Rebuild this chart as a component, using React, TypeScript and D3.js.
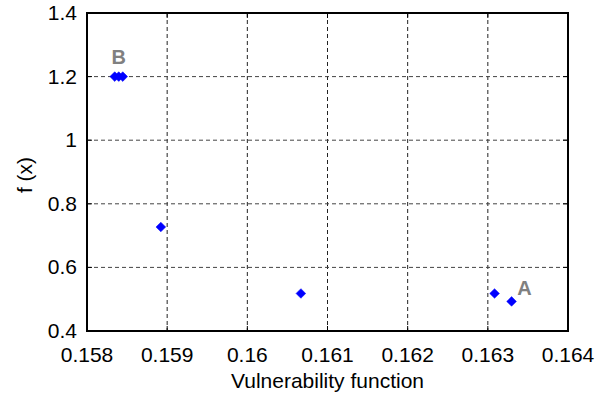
import * as d3 from 'd3';

const xVals = [0.158346, 0.158396, 0.158446, 0.158921, 0.160668, 0.163084, 0.163296];
const yVals = [1.2, 1.2, 1.2, 0.727, 0.518, 0.518, 0.493];
const xTicks = [0.158, 0.159, 0.16, 0.161, 0.162, 0.163, 0.164];
const yTicks = [0.4, 0.6, 0.8, 1, 1.2, 1.4];
const labels = [
  { text: 'B', x: 0.158396, y: 1.2, dx: 0, dy: -13 },
  { text: 'A', x: 0.163296, y: 0.493, dx: 13, dy: -6 },
];

const W = 595;
const H = 399;
const margin = { top: 13, right: 27, bottom: 68, left: 87 };

export default function App() {
  const x = d3.scaleLinear().domain([0.158, 0.164]).range([margin.left, W - margin.right]);
  const y = d3.scaleLinear().domain([0.4, 1.4]).range([H - margin.bottom, margin.top]);
  const diamond = d3.symbol().type(d3.symbolDiamond2).size(60)() ?? '';
  const font = 'Arial, "Liberation Sans", sans-serif';
  const x0 = x(0.158);
  const x1 = x(0.164);
  const y0 = y(0.4);
  const y1 = y(1.4);

  return (
    <svg width={W} height={H} style={{ position: 'absolute', left: 0, top: 0, background: '#fff' }}>
      <rect x={x0} y={y1} width={x1 - x0} height={y0 - y1} fill="#fff" />
      {/* grid */}
      {xTicks.slice(1, -1).map((t) => (
        <line key={'gx' + t} x1={x(t)} x2={x(t)} y1={y1} y2={y0} stroke="#222" strokeWidth={1} strokeDasharray="4,3" />
      ))}
      {yTicks.slice(1, -1).map((t) => (
        <line key={'gy' + t} x1={x0} x2={x1} y1={y(t)} y2={y(t)} stroke="#444" strokeWidth={1} strokeDasharray="4,3" />
      ))}
      {/* inner ticks */}
      {xTicks.map((t) => (
        <g key={'kx' + t}>
          <line x1={x(t)} x2={x(t)} y1={y0} y2={y0 - 5} stroke="#000" />
          <line x1={x(t)} x2={x(t)} y1={y1} y2={y1 + 5} stroke="#000" />
        </g>
      ))}
      {yTicks.map((t) => (
        <g key={'ky' + t}>
          <line x1={x0} x2={x0 + 5} y1={y(t)} y2={y(t)} stroke="#000" />
          <line x1={x1} x2={x1 - 5} y1={y(t)} y2={y(t)} stroke="#000" />
        </g>
      ))}
      {/* box */}
      <rect x={x0} y={y1} width={x1 - x0} height={y0 - y1} fill="none" stroke="#000" strokeWidth={2} />
      {/* tick labels */}
      {xTicks.map((t) => (
        <text key={'tx' + t} x={x(t)} y={y0 + 31} textAnchor="middle" fontSize={21} fontFamily={font} fill="#000">
          {String(t)}
        </text>
      ))}
      {yTicks.map((t) => (
        <text key={'ty' + t} x={x0 - 10} y={y(t) + 7} textAnchor="end" fontSize={21} fontFamily={font} fill="#000">
          {String(t)}
        </text>
      ))}
      {/* points */}
      {xVals.map((v, i) => (
        <path key={'p' + i} d={diamond} transform={`translate(${x(v)},${y(yVals[i])})`} fill="#0000ff" stroke="#0000ff" strokeWidth={0.5} />
      ))}
      {labels.map((l) => (
        <text key={l.text} x={x(l.x) + l.dx} y={y(l.y) + l.dy} textAnchor="middle" fontSize={20} fontWeight="bold" fontFamily={font} fill="#808080">
          {l.text}
        </text>
      ))}
      {/* axis titles */}
      <text x={(x0 + x1) / 2} y={388} textAnchor="middle" fontSize={21} fontFamily={font} fill="#000">
        Vulnerability function
      </text>
      <text transform={`translate(32,175) rotate(-90)`} textAnchor="middle" fontSize={21} fontFamily={font} fill="#000">
        f (x)
      </text>
    </svg>
  );
}
